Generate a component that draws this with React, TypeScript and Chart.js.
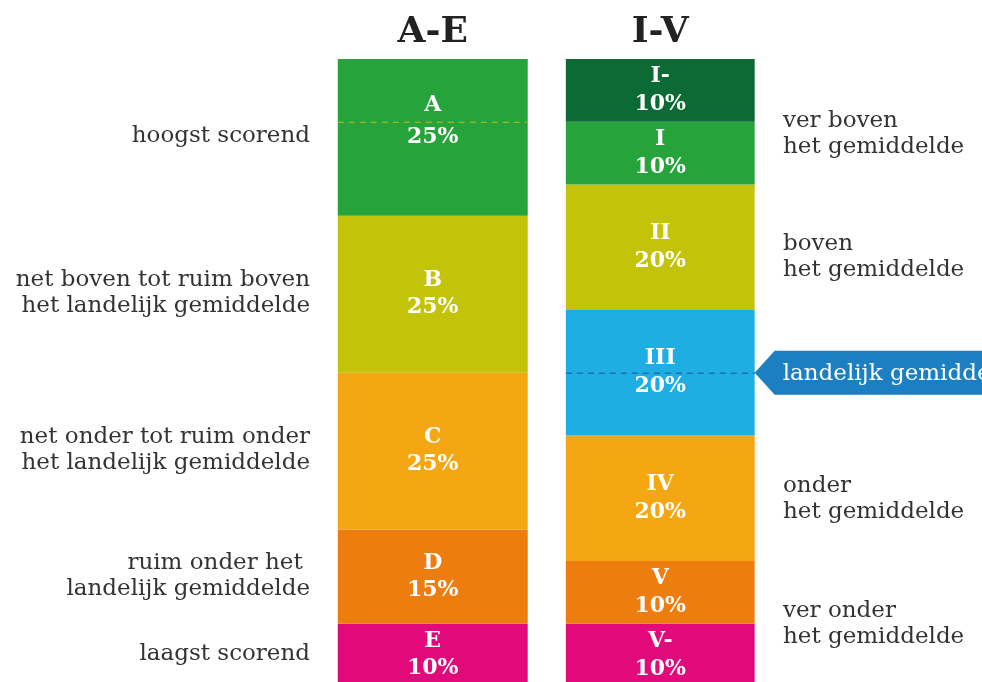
import React, { useEffect, useRef } from "react";
import { Chart, registerables } from "chart.js";

Chart.register(...registerables);

const categories = ["A-E", "I-V"];

const aeLetters = ["A", "B", "C", "D", "E"];
const aeValues = [25, 25, 25, 15, 10];
const aeColors = ["#27a33c", "#c3c30a", "#f4a613", "#ee7d0f", "#e20a7b"];
const aeDescriptions = [
  ["hoogst scorend"],
  ["net boven tot ruim boven", "het landelijk gemiddelde"],
  ["net onder tot ruim onder", "het landelijk gemiddelde"],
  ["ruim onder het ", "landelijk gemiddelde"],
  ["laagst scorend"],
];

const ivLetters = ["I-", "I", "II", "III", "IV", "V", "V-"];
const ivValues = [10, 10, 20, 20, 20, 10, 10];
const ivColors = ["#0c6a35", "#27a33c", "#c3c30a", "#1eaee3", "#f4a613", "#ee7d0f", "#e20a7b"];
const ivDescriptions = [
  ["ver boven", "het gemiddelde"],
  ["boven", "het gemiddelde"],
  ["onder", "het gemiddelde"],
  ["ver onder", "het gemiddelde"],
];
const ivDescriptionAnchors = [12, 31.5, 70.2, 90];

const aeReferenceLine = 10; // dashed line in A, A-label centred on it
const nationalAverage = 50; // middle of III
const calloutText = "landelijk gemiddelde";

const FONT = "'DejaVu Serif', 'Liberation Serif', serif";

export default function App() {
  const ref = useRef<HTMLCanvasElement | null>(null);

  useEffect(() => {
    const canvas = ref.current;
    if (!canvas) return;

    const datasets: any[] = [];
    aeValues.forEach((v, i) => {
      datasets.push({
        label: aeLetters[i],
        data: [v, null],
        backgroundColor: aeColors[i],
        borderWidth: 0,
        barPercentage: 0.835,
        categoryPercentage: 1,
      });
    });
    ivValues.forEach((v, i) => {
      datasets.push({
        label: ivLetters[i],
        data: [null, v],
        backgroundColor: ivColors[i],
        borderWidth: 0,
        barPercentage: 0.83,
        categoryPercentage: 1,
      });
    });

    const overlay = {
      id: "overlay",
      afterDatasetsDraw(chart: any) {
        const ctx = chart.ctx as CanvasRenderingContext2D;
        const x = chart.scales.x;
        const y = chart.scales.y;
        const metaAE = chart.getDatasetMeta(0).data[0];
        const metaIV = chart.getDatasetMeta(aeValues.length).data[1];
        const aeLeft = metaAE.x - metaAE.width / 2;
        const aeRight = metaAE.x + metaAE.width / 2;
        const ivLeft = metaIV.x - metaIV.width / 2;
        const ivRight = metaIV.x + metaIV.width / 2;

        ctx.save();
        // titles
        ctx.fillStyle = "#222222";
        ctx.font = `bold 36px ${FONT}`;
        ctx.textAlign = "center";
        ctx.textBaseline = "middle";
        categories.forEach((c, i) => {
          ctx.fillText(c, x.getPixelForValue(i), 33);
        });

        // dashed line in A
        ctx.strokeStyle = "#c3c30a";
        ctx.lineWidth = 1;
        ctx.setLineDash([6, 5]);
        ctx.beginPath();
        ctx.moveTo(aeLeft, y.getPixelForValue(aeReferenceLine) + 0.5);
        ctx.lineTo(aeRight, y.getPixelForValue(aeReferenceLine) + 0.5);
        ctx.stroke();
        ctx.setLineDash([]);

        // callout
        const cy = y.getPixelForValue(nationalAverage);
        ctx.fillStyle = "#1b7fc2";
        ctx.beginPath();
        ctx.moveTo(ivRight, cy);
        ctx.lineTo(ivRight + 20, cy - 22);
        ctx.lineTo(982, cy - 22);
        ctx.lineTo(982, cy + 22);
        ctx.lineTo(ivRight + 20, cy + 22);
        ctx.closePath();
        ctx.fill();
        ctx.strokeStyle = "#1b6fb3";
        ctx.lineWidth = 1.5;
        ctx.setLineDash([6, 5]);
        ctx.beginPath();
        ctx.moveTo(ivLeft, cy + 0.5);
        ctx.lineTo(ivRight, cy + 0.5);
        ctx.stroke();
        ctx.setLineDash([]);
        ctx.fillStyle = "#ffffff";
        ctx.font = `23px ${FONT}`;
        ctx.textAlign = "left";
        ctx.fillText(calloutText, ivRight + 28, cy + 1);

        // segment labels
        ctx.fillStyle = "#ffffff";
        ctx.font = `bold 22px ${FONT}`;
        ctx.textAlign = "center";
        const drawPair = (cx: number, mid: number, letter: string, value: number, gap: number) => {
          ctx.fillText(letter, cx, mid - gap / 2);
          ctx.fillText(value + "%", cx, mid + gap / 2);
        };
        let acc = 0;
        aeValues.forEach((v, i) => {
          const mid = i === 0 ? y.getPixelForValue(aeReferenceLine) : y.getPixelForValue(acc + v / 2);
          drawPair(metaAE.x, mid, aeLetters[i], v, i === 0 ? 32 : 27);
          acc += v;
        });
        acc = 0;
        ivValues.forEach((v, i) => {
          const mid = y.getPixelForValue(acc + v / 2);
          drawPair(metaIV.x, mid, ivLetters[i], v, 28);
          acc += v;
        });

        // left descriptions
        ctx.fillStyle = "#333333";
        ctx.font = `23px ${FONT}`;
        ctx.textAlign = "right";
        acc = 0;
        aeValues.forEach((v, i) => {
          const mid = y.getPixelForValue(acc + v / 2) - 1;
          const lines = aeDescriptions[i];
          lines.forEach((ln, j) => {
            ctx.fillText(ln, 310, mid + (j - (lines.length - 1) / 2) * 26);
          });
          acc += v;
        });

        // right descriptions
        ctx.textAlign = "left";
        ivDescriptions.forEach((lines, i) => {
          const mid = y.getPixelForValue(ivDescriptionAnchors[i]);
          lines.forEach((ln, j) => {
            ctx.fillText(ln, 783, mid + (j - (lines.length - 1) / 2) * 26);
          });
        });
        ctx.restore();
      },
    };

    const chart = new Chart(canvas, {
      type: "bar",
      data: { labels: categories, datasets },
      options: {
        responsive: false,
        animation: false,
        devicePixelRatio: 1,
        layout: { padding: { left: 319, right: 208, top: 59, bottom: 0 } },
        plugins: { legend: { display: false }, tooltip: { enabled: false }, title: { display: false } },
        scales: {
          x: { stacked: true, display: false, offset: true },
          y: { stacked: true, display: false, reverse: true, min: 0, max: 99.3 },
        },
      },
      plugins: [overlay],
    });
    return () => chart.destroy();
  }, []);

  return (
    <div style={{ position: "absolute", left: 0, top: 0, width: 982, height: 682, background: "#ffffff" }}>
      <canvas ref={ref} width={982} height={682} style={{ display: "block" }} />
    </div>
  );
}
